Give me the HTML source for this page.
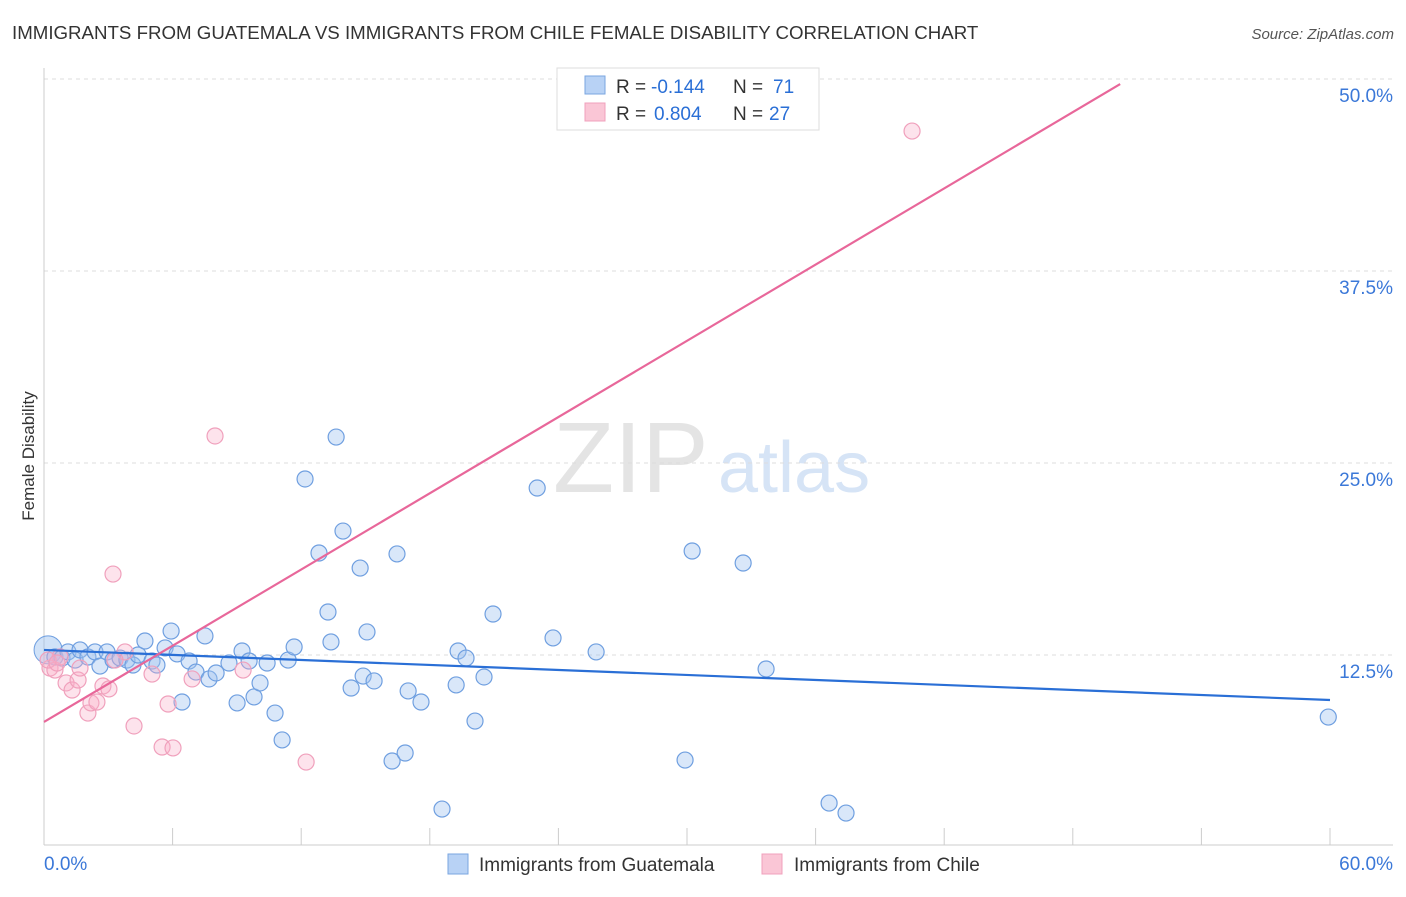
<!DOCTYPE html>
<html><head><meta charset="utf-8"><style>
body{margin:0;background:#fff;font-family:"Liberation Sans",sans-serif;}
svg text{font-family:"Liberation Sans",sans-serif;}
</style></head><body>
<svg id="chart" width="1406" height="892" xmlns="http://www.w3.org/2000/svg">
<text x="12" y="39" font-size="18.7" fill="#333">IMMIGRANTS FROM GUATEMALA VS IMMIGRANTS FROM CHILE FEMALE DISABILITY CORRELATION CHART</text>
<text x="1394" y="39" font-size="15" fill="#555" text-anchor="end" font-style="italic">Source: ZipAtlas.com</text>
<text x="553" y="492" font-size="100" fill="#e4e4e4" font-family="Liberation Serif">ZIP</text>
<text x="718" y="492" font-size="72" fill="#d6e4f6">atlas</text>
<text transform="translate(34,456) rotate(-90)" font-size="17" fill="#333" text-anchor="middle">Female Disability</text>
<g id="grid"></g>
<g id="axes"></g>
<g id="pts"></g>
<g id="lines"></g>
<g>
<rect x="557" y="68" width="262" height="62" fill="#fff" stroke="#ddd"/>
<rect x="585" y="76" width="20" height="18" fill="#b8d2f5" stroke="#7aa6e0"/>
<rect x="585" y="103" width="20" height="18" fill="#fac6d6" stroke="#f0a0bc"/>
<text x="616" y="93" font-size="19" fill="#333">R =</text><text x="651" y="93" font-size="19" fill="#2a6fd6">-0.144</text>
<text x="733" y="93" font-size="19" fill="#333">N =</text><text x="773" y="93" font-size="19" fill="#2a6fd6">71</text>
<text x="616" y="120" font-size="19" fill="#333">R =</text><text x="654" y="120" font-size="19" fill="#2a6fd6">0.804</text>
<text x="733" y="120" font-size="19" fill="#333">N =</text><text x="769" y="120" font-size="19" fill="#2a6fd6">27</text>
</g>
<g>
<rect x="448" y="854" width="20" height="20" fill="#b8d2f5" stroke="#7aa6e0"/>
<text x="479" y="871" font-size="19" fill="#333">Immigrants from Guatemala</text>
<rect x="762" y="854" width="20" height="20" fill="#fac6d6" stroke="#f0a0bc"/>
<text x="794" y="871" font-size="19" fill="#333">Immigrants from Chile</text>
</g>
</svg>
<script>
const yTicks=[12.5,25,37.5,50];
const yTickLabels=["12.5%","25.0%","37.5%","50.0%"];
const xTickCount=10;
const xMax=60;
const blueX=[0.51,0.84,1.12,1.45,1.68,2.05,2.38,2.61,2.94,3.22,3.55,3.87,4.15,4.39,4.71,5.04,5.27,5.65,5.93,6.21,6.44,6.77,7.09,7.51,7.70,8.03,8.63,9.01,9.24,9.57,9.80,10.08,10.41,10.78,11.11,11.39,11.67,12.18,12.83,13.25,13.39,13.63,13.95,14.33,14.75,14.89,15.07,15.40,16.24,16.47,16.85,16.99,17.59,18.57,19.23,19.32,19.69,20.11,20.53,20.95,23.01,23.75,25.76,29.91,30.24,32.62,33.69,36.63,37.42,59.92];
const blueY=[12.37,12.30,12.70,12.17,12.83,12.37,12.70,11.78,12.70,12.17,12.30,12.17,11.85,12.50,13.41,12.11,11.85,12.96,14.06,12.57,9.44,12.11,11.39,13.74,10.94,11.33,11.98,9.38,12.76,12.11,9.77,10.68,11.98,8.72,6.97,12.17,13.02,23.96,19.14,15.30,13.35,26.69,20.57,10.35,18.16,11.13,14.00,10.81,5.60,19.08,6.12,10.16,9.44,2.47,10.55,12.76,12.30,8.20,11.07,15.17,23.37,13.61,12.70,5.66,19.27,18.49,11.59,2.86,2.21,8.46];
const pinkX=[0.28,0.51,0.75,1.03,1.31,1.59,2.05,2.19,2.47,2.75,3.03,3.22,3.78,4.20,5.04,5.51,5.79,6.02,6.91,7.98,9.29,12.23,40.50,0.19,0.61,1.68,3.31];
const pinkY=[11.65,11.52,12.37,10.68,10.22,10.87,8.72,9.38,9.44,10.48,10.29,17.77,12.70,7.88,11.26,6.51,9.31,6.45,10.94,26.76,11.52,5.53,46.61,12.17,11.98,11.65,12.17];
const blueTrend=[12.83,9.57];
const pinkTrend=[8.14,49.67];
const pinkTrendEndX=50.21;
const X=v=>44+v*(1286/xMax);
const Y=v=>847-v*15.36;
const NS="http://www.w3.org/2000/svg";
function mk(tag,attrs,parent){const e=document.createElementNS(NS,tag);for(const k in attrs)e.setAttribute(k,attrs[k]);parent.appendChild(e);return e;}
const grid=document.getElementById('grid'),axes=document.getElementById('axes'),pts=document.getElementById('pts'),lines=document.getElementById('lines');
yTicks.forEach((t,i)=>{
 const l=mk('line',{x1:44,x2:1393,y1:Y(t),y2:Y(t),stroke:'#ddd','stroke-dasharray':'4,4'},grid);
 
 
 const tx=mk('text',{x:1393,y:Y(t)+23,'font-size':19,fill:'#3b78d8','text-anchor':'end'},axes);
 tx.textContent=yTickLabels[i];
 
 
});
const ax=mk('line',{x1:44,x2:44,y1:68,y2:845,stroke:'#ccc'},axes);


const bx=mk('line',{x1:44,x2:1393,y1:845,y2:845,stroke:'#ccc'},axes);


for(let i=0;i<=xTickCount;i++){
 const v=i*xMax/xTickCount;
 const t=mk('line',{x1:X(v),x2:X(v),y1:828,y2:845,stroke:'#ccc'},axes);
 
 
}
const xl=mk('text',{x:44,y:870,'font-size':19,fill:'#3b78d8'},axes);xl.textContent="0.0%";


const xr=mk('text',{x:1393,y:870,'font-size':19,fill:'#3b78d8','text-anchor':'end'},axes);xr.textContent="60.0%";


const big=mk('circle',{cx:X(0.19),cy:Y(12.83),r:14,fill:'rgba(150,190,240,0.45)',stroke:'#6f9fe0'},pts);


blueX.forEach((x,i)=>{
 const c=mk('circle',{cx:X(x),cy:Y(blueY[i]),r:8,fill:'rgba(160,195,240,0.4)',stroke:'#6f9fe0','stroke-width':1.2},pts);
 
 
});
pinkX.forEach((x,i)=>{
 const c=mk('circle',{cx:X(x),cy:Y(pinkY[i]),r:8,fill:'rgba(248,175,200,0.35)',stroke:'#f0a0bc','stroke-width':1.2},pts);
 
 
});
const bl=mk('line',{x1:X(0),y1:Y(blueTrend[0]),x2:X(60),y2:Y(blueTrend[1]),stroke:'#2a6fd6','stroke-width':2.2},lines);


const pl=mk('line',{x1:X(0),y1:Y(pinkTrend[0]),x2:X(pinkTrendEndX),y2:Y(pinkTrend[1]),stroke:'#e8679a','stroke-width':2.2},lines);


</script>
</body></html>
